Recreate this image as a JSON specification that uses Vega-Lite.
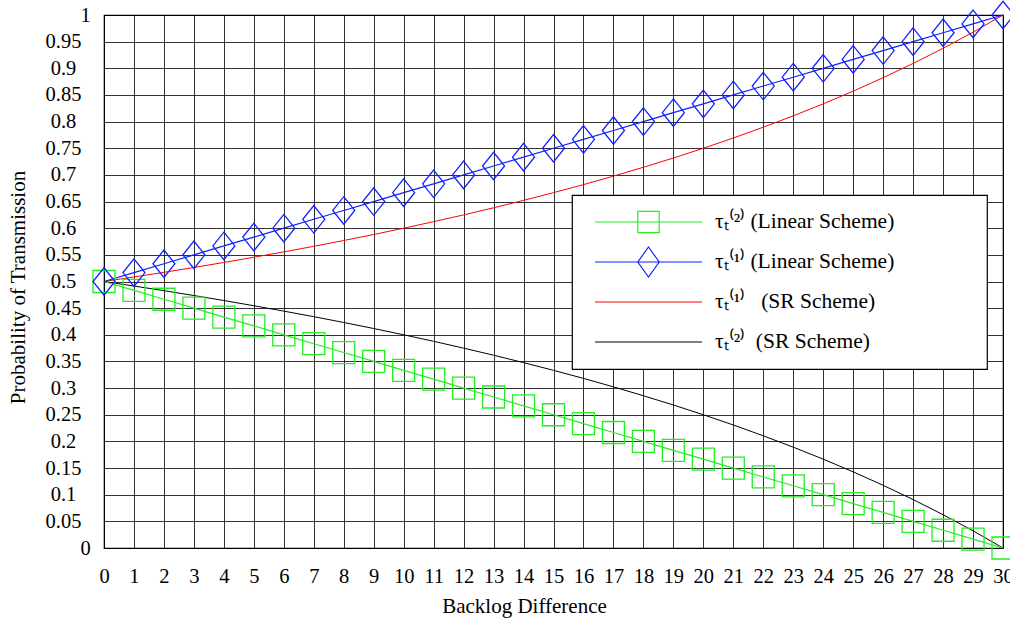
{
  "$schema": "https://vega.github.io/schema/vega-lite/v6.json",
  "autosize": "none",
  "width": 899,
  "height": 533,
  "padding": {"left": 104, "top": 15, "right": 7, "bottom": 76},
  "background": "white",
  "config": {
    "view": {"stroke": "black", "strokeWidth": 1.2},
    "font": "Liberation Serif",
    "legend": {"strokeWidth": 1.2}
  },
  "data": {
    "values": [
      {"x": 0, "s": "L2", "y": 0.5}, {"x": 0, "s": "L1", "y": 0.5}, {"x": 0, "s": "S1", "y": 0.5}, {"x": 0, "s": "S2", "y": 0.5},
      {"x": 1, "s": "L2", "y": 0.4833}, {"x": 1, "s": "L1", "y": 0.5167}, {"x": 1, "s": "S1", "y": 0.5085}, {"x": 1, "s": "S2", "y": 0.4915},
      {"x": 2, "s": "L2", "y": 0.4667}, {"x": 2, "s": "L1", "y": 0.5333}, {"x": 2, "s": "S1", "y": 0.5172}, {"x": 2, "s": "S2", "y": 0.4828},
      {"x": 3, "s": "L2", "y": 0.45}, {"x": 3, "s": "L1", "y": 0.55}, {"x": 3, "s": "S1", "y": 0.5263}, {"x": 3, "s": "S2", "y": 0.4737},
      {"x": 4, "s": "L2", "y": 0.4333}, {"x": 4, "s": "L1", "y": 0.5667}, {"x": 4, "s": "S1", "y": 0.5357}, {"x": 4, "s": "S2", "y": 0.4643},
      {"x": 5, "s": "L2", "y": 0.4167}, {"x": 5, "s": "L1", "y": 0.5833}, {"x": 5, "s": "S1", "y": 0.5455}, {"x": 5, "s": "S2", "y": 0.4545},
      {"x": 6, "s": "L2", "y": 0.4}, {"x": 6, "s": "L1", "y": 0.6}, {"x": 6, "s": "S1", "y": 0.5556}, {"x": 6, "s": "S2", "y": 0.4444},
      {"x": 7, "s": "L2", "y": 0.3833}, {"x": 7, "s": "L1", "y": 0.6167}, {"x": 7, "s": "S1", "y": 0.566}, {"x": 7, "s": "S2", "y": 0.434},
      {"x": 8, "s": "L2", "y": 0.3667}, {"x": 8, "s": "L1", "y": 0.6333}, {"x": 8, "s": "S1", "y": 0.5769}, {"x": 8, "s": "S2", "y": 0.4231},
      {"x": 9, "s": "L2", "y": 0.35}, {"x": 9, "s": "L1", "y": 0.65}, {"x": 9, "s": "S1", "y": 0.5882}, {"x": 9, "s": "S2", "y": 0.4118},
      {"x": 10, "s": "L2", "y": 0.3333}, {"x": 10, "s": "L1", "y": 0.6667}, {"x": 10, "s": "S1", "y": 0.6}, {"x": 10, "s": "S2", "y": 0.4},
      {"x": 11, "s": "L2", "y": 0.3167}, {"x": 11, "s": "L1", "y": 0.6833}, {"x": 11, "s": "S1", "y": 0.6122}, {"x": 11, "s": "S2", "y": 0.3878},
      {"x": 12, "s": "L2", "y": 0.3}, {"x": 12, "s": "L1", "y": 0.7}, {"x": 12, "s": "S1", "y": 0.625}, {"x": 12, "s": "S2", "y": 0.375},
      {"x": 13, "s": "L2", "y": 0.2833}, {"x": 13, "s": "L1", "y": 0.7167}, {"x": 13, "s": "S1", "y": 0.6383}, {"x": 13, "s": "S2", "y": 0.3617},
      {"x": 14, "s": "L2", "y": 0.2667}, {"x": 14, "s": "L1", "y": 0.7333}, {"x": 14, "s": "S1", "y": 0.6522}, {"x": 14, "s": "S2", "y": 0.3478},
      {"x": 15, "s": "L2", "y": 0.25}, {"x": 15, "s": "L1", "y": 0.75}, {"x": 15, "s": "S1", "y": 0.6667}, {"x": 15, "s": "S2", "y": 0.3333},
      {"x": 16, "s": "L2", "y": 0.2333}, {"x": 16, "s": "L1", "y": 0.7667}, {"x": 16, "s": "S1", "y": 0.6818}, {"x": 16, "s": "S2", "y": 0.3182},
      {"x": 17, "s": "L2", "y": 0.2167}, {"x": 17, "s": "L1", "y": 0.7833}, {"x": 17, "s": "S1", "y": 0.6977}, {"x": 17, "s": "S2", "y": 0.3023},
      {"x": 18, "s": "L2", "y": 0.2}, {"x": 18, "s": "L1", "y": 0.8}, {"x": 18, "s": "S1", "y": 0.7143}, {"x": 18, "s": "S2", "y": 0.2857},
      {"x": 19, "s": "L2", "y": 0.1833}, {"x": 19, "s": "L1", "y": 0.8167}, {"x": 19, "s": "S1", "y": 0.7317}, {"x": 19, "s": "S2", "y": 0.2683},
      {"x": 20, "s": "L2", "y": 0.1667}, {"x": 20, "s": "L1", "y": 0.8333}, {"x": 20, "s": "S1", "y": 0.75}, {"x": 20, "s": "S2", "y": 0.25},
      {"x": 21, "s": "L2", "y": 0.15}, {"x": 21, "s": "L1", "y": 0.85}, {"x": 21, "s": "S1", "y": 0.7692}, {"x": 21, "s": "S2", "y": 0.2308},
      {"x": 22, "s": "L2", "y": 0.1333}, {"x": 22, "s": "L1", "y": 0.8667}, {"x": 22, "s": "S1", "y": 0.7895}, {"x": 22, "s": "S2", "y": 0.2105},
      {"x": 23, "s": "L2", "y": 0.1167}, {"x": 23, "s": "L1", "y": 0.8833}, {"x": 23, "s": "S1", "y": 0.8108}, {"x": 23, "s": "S2", "y": 0.1892},
      {"x": 24, "s": "L2", "y": 0.1}, {"x": 24, "s": "L1", "y": 0.9}, {"x": 24, "s": "S1", "y": 0.8333}, {"x": 24, "s": "S2", "y": 0.1667},
      {"x": 25, "s": "L2", "y": 0.0833}, {"x": 25, "s": "L1", "y": 0.9167}, {"x": 25, "s": "S1", "y": 0.8571}, {"x": 25, "s": "S2", "y": 0.1429},
      {"x": 26, "s": "L2", "y": 0.0667}, {"x": 26, "s": "L1", "y": 0.9333}, {"x": 26, "s": "S1", "y": 0.8824}, {"x": 26, "s": "S2", "y": 0.1176},
      {"x": 27, "s": "L2", "y": 0.05}, {"x": 27, "s": "L1", "y": 0.95}, {"x": 27, "s": "S1", "y": 0.9091}, {"x": 27, "s": "S2", "y": 0.0909},
      {"x": 28, "s": "L2", "y": 0.0333}, {"x": 28, "s": "L1", "y": 0.9667}, {"x": 28, "s": "S1", "y": 0.9375}, {"x": 28, "s": "S2", "y": 0.0625},
      {"x": 29, "s": "L2", "y": 0.0167}, {"x": 29, "s": "L1", "y": 0.9833}, {"x": 29, "s": "S1", "y": 0.9677}, {"x": 29, "s": "S2", "y": 0.0323},
      {"x": 30, "s": "L2", "y": 0}, {"x": 30, "s": "L1", "y": 1}, {"x": 30, "s": "S1", "y": 1}, {"x": 30, "s": "S2", "y": 0}
    ]
  },
  "encoding": {
    "x": {
      "field": "x", "type": "quantitative",
      "scale": {"domain": [0, 30], "nice": false, "zero": false},
      "axis": {
        "values": [0,1,2,3,4,5,6,7,8,9,10,11,12,13,14,15,16,17,18,19,20,21,22,23,24,25,26,27,28,29,30],
        "format": "d",
        "grid": true, "gridColor": "black", "gridOpacity": 0.8, "gridWidth": 1,
        "ticks": false, "tickSize": 0,
        "domain": true, "domainColor": "black",
        "labelFont": "Liberation Serif", "labelFontSize": 20.5, "labelColor": "black",
        "labelPadding": 18, "labelFlush": false, "labelOverlap": false,
        "title": "Backlog Difference",
        "titleFont": "Liberation Serif", "titleFontSize": 21, "titleFontWeight": "normal", "titleColor": "black",
        "titleX": 420, "titleY": 58, "titleBaseline": "middle", "titleAlign": "center"
      }
    },
    "y": {
      "field": "y", "type": "quantitative",
      "scale": {"domain": [0, 1], "nice": false},
      "axis": {
        "values": [0,0.05,0.1,0.15,0.2,0.25,0.3,0.35,0.4,0.45,0.5,0.55,0.6,0.65,0.7,0.75,0.8,0.85,0.9,0.95,1],
        "format": ".2~f",
        "grid": true, "gridColor": "black", "gridOpacity": 0.8, "gridWidth": 1,
        "ticks": false, "tickSize": 0,
        "domain": true, "domainColor": "black",
        "labelFont": "Liberation Serif", "labelFontSize": 20.5, "labelColor": "black",
        "labelAlign": "center", "labelBaseline": "middle",
        "labelPadding": {"condition": {"test": "datum.value == 0 || datum.value == 1", "value": 19}, "value": 41},
        "labelFlush": false, "labelOverlap": false,
        "title": "Probability of Transmission",
        "titleFont": "Liberation Serif", "titleFontSize": 21, "titleFontWeight": "normal", "titleColor": "black",
        "titleX": -86, "titleY": 272, "titleBaseline": "middle", "titleAlign": "center", "titleAngle": -90
      }
    }
  },
  "layer": [
    {
      "mark": {"type": "line", "strokeWidth": 1, "color": "#ff0000"},
      "transform": [{"filter": "datum.s == 'S1'"}],
      "encoding": {}
    },
    {
      "mark": {"type": "line", "strokeWidth": 1, "color": "#000000"},
      "transform": [{"filter": "datum.s == 'S2'"}],
      "encoding": {}
    },
    {
      "mark": {"type": "line", "strokeWidth": 1.2, "color": "#22ee22"},
      "transform": [{"filter": "datum.s == 'L2'"}],
      "encoding": {}
    },
    {
      "mark": {"type": "line", "strokeWidth": 1.2, "color": "#1122ff"},
      "transform": [{"filter": "datum.s == 'L1'"}],
      "encoding": {}
    },
    {
      "mark": {"type": "point", "shape": "square", "size": 484, "filled": false, "strokeWidth": 1.3, "opacity": 1, "color": "#22ee22"},
      "transform": [{"filter": "datum.s == 'L2'"}],
      "encoding": {}
    },
    {
      "mark": {"type": "point", "shape": "M0,-1.25L1,0L0,1.25L-1,0Z", "size": 484, "filled": false, "strokeWidth": 1.3, "opacity": 1, "color": "#1122ff"},
      "transform": [{"filter": "datum.s == 'L1'"}],
      "encoding": {}
    },
    {
      "mark": {"type": "point", "filled": false, "strokeWidth": 1.2, "opacity": 1},
      "transform": [{"filter": "datum.x > 100"}],
      "encoding": {
        "color": {
          "field": "s", "type": "nominal",
          "scale": {"domain": ["L2", "L1", "S1", "S2"], "range": ["#22ee22", "#1122ff", "#ff0000", "#000000"]},
          "legend": {
            "title": null, "orient": "none", "legendX": 468, "legendY": 180, "direction": "vertical",
            "fillColor": "white", "strokeColor": "black", "padding": 7,
            "symbolOffset": 15, "symbolSize": 11449, "symbolStrokeWidth": 1.2,
            "clipHeight": 40, "rowPadding": 0, "labelOffset": 12,
            "labelFont": "Liberation Serif", "labelFontSize": 21.5, "labelColor": "black", "labelLimit": 0,
            "labelExpr": "{'L2': 'τₜ⁽²⁾ (Linear Scheme)', 'L1': 'τₜ⁽¹⁾ (Linear Scheme)', 'S1': 'τₜ⁽¹⁾\u00a0\u00a0 (SR Scheme)', 'S2': 'τₜ⁽²⁾\u00a0 (SR Scheme)'}[datum.value] + '\u00a0\u2800\u2800\u2800\u2800\u2800'"
          }
        },
        "shape": {
          "field": "s", "type": "nominal",
          "scale": {"domain": ["L2", "L1", "S1", "S2"], "range": ["M-1,0H1M-0.2,-0.2H0.2V0.2H-0.2Z", "M-1,0H1M0,-0.28L0.2,0L0,0.28L-0.2,0Z", "M-1,0H1", "M-1,0H1"]},
          "legend": {
            "title": null, "orient": "none", "legendX": 468, "legendY": 180, "direction": "vertical",
            "fillColor": "white", "strokeColor": "black", "padding": 7,
            "symbolOffset": 15, "symbolSize": 11449, "symbolStrokeWidth": 1.2,
            "clipHeight": 40, "rowPadding": 0, "labelOffset": 12,
            "labelFont": "Liberation Serif", "labelFontSize": 21.5, "labelColor": "black", "labelLimit": 0,
            "labelExpr": "{'L2': 'τₜ⁽²⁾ (Linear Scheme)', 'L1': 'τₜ⁽¹⁾ (Linear Scheme)', 'S1': 'τₜ⁽¹⁾\u00a0\u00a0 (SR Scheme)', 'S2': 'τₜ⁽²⁾\u00a0 (SR Scheme)'}[datum.value] + '\u00a0\u2800\u2800\u2800\u2800\u2800'"
          }
        }
      }
    }
  ]
}
